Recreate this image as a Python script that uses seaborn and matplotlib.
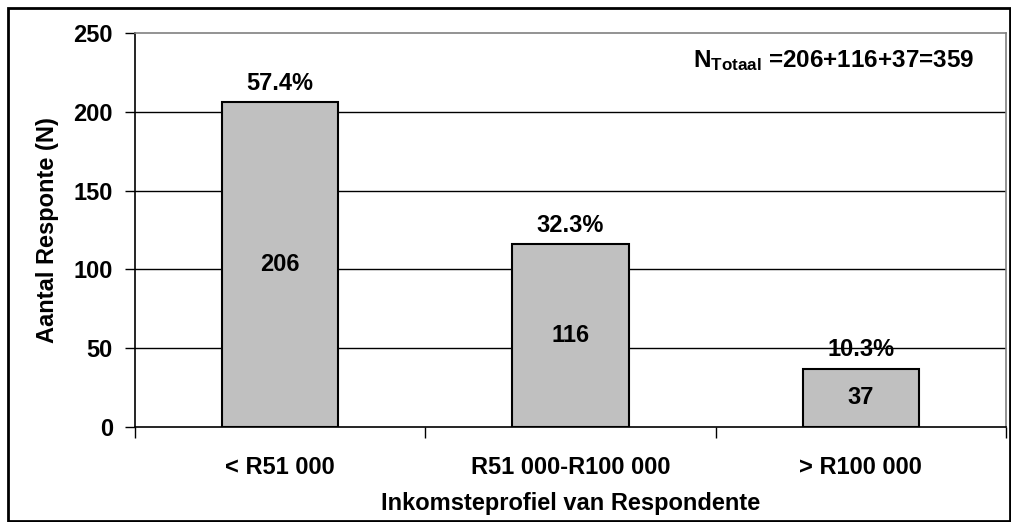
import matplotlib
matplotlib.use("Agg")
import matplotlib.pyplot as plt
from matplotlib.patches import Rectangle
import seaborn as sns
import pandas as pd

# Survey data: respondent counts per income bracket
categories = ["< R51 000", "R51 000-R100 000", "> R100 000"]
counts = [206, 116, 37]
percent_labels = ["57.4%", "32.3%", "10.3%"]
yticks = [0, 50, 100, 150, 200, 250]

sns.set_theme(style="white")
plt.rcParams["font.family"] = ["Liberation Sans", "DejaVu Sans"]
plt.rcParams["font.weight"] = "bold"
plt.rcParams["mathtext.fontset"] = "custom"
plt.rcParams["mathtext.rm"] = "Liberation Sans:bold"
plt.rcParams["mathtext.bf"] = "Liberation Sans:bold"
plt.rcParams["mathtext.it"] = "Liberation Sans:bold"
for key in ("text.color", "axes.labelcolor", "xtick.color", "ytick.color"):
    plt.rcParams[key] = "black"

FS = 17

W, H = 1011, 522
fig = plt.figure(figsize=(W / 100, H / 100), dpi=100)
ax = fig.add_axes([135 / W, 1 - 427 / H, (1006 - 135) / W, (427 - 33) / H])

df = pd.DataFrame({"cat": categories, "n": counts})
sns.barplot(data=df, x="cat", y="n", ax=ax, color="#C0C0C0", width=0.4,
            saturation=1, edgecolor="black", linewidth=1.5, zorder=3)

ax.set_xlim(-0.5, len(categories) - 0.5)
ax.set_ylim(0, 250)
ax.set_yticks(yticks)
ax.set_yticklabels([str(t) for t in yticks], fontsize=FS, fontweight="bold")
ax.set_xticks(range(len(categories)))
ax.set_xticklabels(categories, fontsize=FS, fontweight="bold")
ax.set_xticks([i - 0.5 for i in range(len(categories) + 1)], minor=True)
ax.tick_params(axis="x", which="major", length=0, pad=21)
ax.tick_params(axis="x", which="minor", length=8, width=1, color="black", direction="out", bottom=True)
ax.tick_params(axis="y", which="major", length=7, width=1, color="black", direction="out", left=True, pad=9)

for y in yticks[1:-1]:
    ax.axhline(y, color="black", linewidth=1, zorder=1)

for side in ("left", "bottom"):
    ax.spines[side].set_color("black")
    ax.spines[side].set_linewidth(1.2)
for side in ("top", "right"):
    ax.spines[side].set_color("#808080")
    ax.spines[side].set_linewidth(1.2)

ax.set_xlabel("Inkomsteprofiel van Respondente", fontsize=FS, fontweight="bold", labelpad=9)
ax.set_ylabel("Aantal Responte (N)", fontsize=FS, fontweight="bold", labelpad=10)

for i, (n, p) in enumerate(zip(counts, percent_labels)):
    ax.text(i, n / 2, str(n), ha="center", va="center", fontsize=FS, fontweight="bold", zorder=4)
    ax.annotate(p, (i, n), xytext=(0, 9), textcoords="offset points",
                ha="center", va="baseline", fontsize=FS, fontweight="bold")

# Total respondents note, top right
ax.text(0.641, 0.93, r"N$_{\mathrm{Totaal}}$ =206+116+37=359", transform=ax.transAxes,
        ha="left", va="center", fontsize=FS + 0.5, fontweight="bold")

# Outer chart frame
fig.patches.append(Rectangle((8 / W, 1 / H), (W - 9) / W, (H - 9) / H, transform=fig.transFigure,
                             fill=False, edgecolor="black", linewidth=2))

fig.savefig("out.png", dpi=100)
